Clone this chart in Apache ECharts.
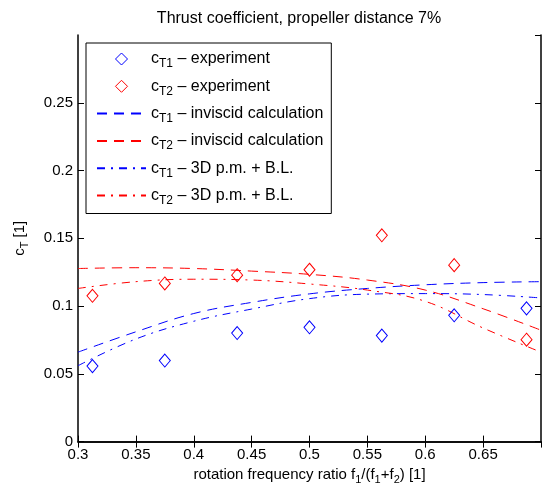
<!DOCTYPE html>
<html>
<head>
<meta charset="utf-8">
<script src="https://cdn.jsdelivr.net/npm/echarts@6/dist/echarts.min.js"></script>
<style>
html, body { margin: 0; padding: 0; background: #fff; }
#chart { width: 542px; height: 490px; }
</style>
</head>
<body>
<div id="chart"></div>
<script>
// measured points (rotation frequency ratio)
var xExp = [0.3125, 0.375, 0.4375, 0.5, 0.5625, 0.625, 0.6875];
var cT1Exp = [0.0557, 0.0598, 0.0801, 0.0843, 0.0782, 0.0932, 0.0983];
var cT2Exp = [0.1076, 0.1167, 0.1228, 0.1268, 0.1522, 0.1302, 0.0752];

// calculated curves
var xCalc = [0.3, 0.35, 0.4, 0.45, 0.5, 0.55, 0.6, 0.65, 0.7];
var cT1Inv = [0.066, 0.081, 0.0945, 0.1027, 0.109, 0.113, 0.1157, 0.1173, 0.118];
var cT2Inv = [0.1277, 0.1283, 0.1277, 0.1258, 0.1234, 0.1192, 0.1118, 0.098, 0.0822];
var cT1Pm = [0.056, 0.0757, 0.0888, 0.0978, 0.1055, 0.1088, 0.1092, 0.1085, 0.106];
var cT2Pm = [0.113, 0.118, 0.1198, 0.1192, 0.1163, 0.1118, 0.1035, 0.0838, 0.066];

var seriesNames = [
    'cT1 – experiment',
    'cT2 – experiment',
    'cT1 – inviscid calculation',
    'cT2 – inviscid calculation',
    'cT1 – 3D p.m. + B.L.',
    'cT2 – 3D p.m. + B.L.'
];

var FONT = '"Liberation Sans", Arial, Helvetica, sans-serif';
var BLUE = '#0000ff';
var RED = '#ff0000';
var DASH = [10, 7];
var DASHDOT = [8, 6, 2, 6];

function pairs(xs, ys) {
    return xs.map(function (x, i) { return [x, ys[i]]; });
}

function expSeries(name, ys, color) {
    return {
        name: name,
        type: 'line',
        data: pairs(xExp, ys),
        symbol: 'diamond',
        symbolSize: [11, 13],
        showAllSymbol: true,
        lineStyle: { color: color, opacity: 0 },
        itemStyle: { color: 'rgba(0,0,0,0)', borderColor: color, borderWidth: 1 },
        z: 3,
        animation: false
    };
}

function calcSeries(name, ys, color, dash) {
    return {
        name: name,
        type: 'line',
        data: pairs(xCalc, ys),
        symbol: 'none',
        smooth: 0.4,
        lineStyle: { color: color, width: 1, type: dash },
        itemStyle: { color: color },
        animation: false
    };
}

// legend entries: hide the marker for the calculated curves
var legendColors = [BLUE, RED];
var legendData = seriesNames.map(function (n, i) {
    if (i < 2) {
        return { name: n, itemStyle: { color: 'rgba(0,0,0,0)', borderColor: legendColors[i], borderWidth: 1 } };
    }
    return { name: n, itemStyle: { opacity: 0 } };
});

var chart = echarts.init(document.getElementById('chart'));

var axisCommon = {
    axisLine: { lineStyle: { color: '#000', width: 1.5 } },
    axisTick: { inside: true, length: 6, lineStyle: { color: '#000' } },
    splitLine: { show: false }
};

var option = {
    backgroundColor: '#fff',
    title: {
        text: 'Thrust coefficient, propeller distance 7%',
        left: 294,
        textAlign: 'center',
        top: 6,
        textStyle: { fontFamily: FONT, fontSize: 16, fontWeight: 'normal', color: '#000' }
    },
    grid: { left: 78, right: 1, top: 35, bottom: 47 },
    legend: {
        orient: 'vertical',
        left: 86,
        top: 43,
        padding: [8, 8, 7, 10],
        itemWidth: 49,
        itemHeight: 15,
        itemGap: 8.3,
        backgroundColor: '#fff',
        borderColor: '#000',
        borderWidth: 1,
        selectedMode: false,
        data: legendData,
        formatter: function (name) {
            return '{c|c}{s|' + name.substr(1, 2) + '}{c|' + name.substr(3) + '}';
        },
        textStyle: {
            color: '#000',
            fontFamily: FONT,
            rich: {
                c: { fontFamily: FONT, fontSize: 16, lineHeight: 22, color: '#000' },
                s: { fontFamily: FONT, fontSize: 12, lineHeight: 12, verticalAlign: 'bottom', color: '#000' }
            }
        }
    },
    xAxis: [
        Object.assign({
            type: 'value', min: 0.3, max: 0.7, interval: 0.05, position: 'bottom',
            name: '{n|rotation frequency ratio f}{s|1}{n|/(f}{s|1}{n|+f}{s|2}{n|) [1]}',
            nameLocation: 'middle',
            nameGap: 17,
            nameTextStyle: {
                rich: {
                    n: { fontFamily: FONT, fontSize: 15, lineHeight: 20, color: '#000' },
                    s: { fontFamily: FONT, fontSize: 11, lineHeight: 11, verticalAlign: 'bottom', color: '#000' }
                }
            },
            axisLabel: { color: '#000', fontFamily: FONT, fontSize: 15, margin: 6, showMaxLabel: false }
        }, axisCommon),
        Object.assign({
            type: 'value', min: 0.3, max: 0.7, interval: 0.05, position: 'top',
            axisLabel: { show: false }
        }, axisCommon)
    ],
    yAxis: [
        Object.assign({
            type: 'value', min: 0, max: 0.3, interval: 0.05, position: 'left',
            name: '{n|c}{s|T}{n| [1]}',
            nameLocation: 'middle',
            nameRotate: 90,
            nameGap: 48,
            nameTextStyle: {
                rich: {
                    n: { fontFamily: FONT, fontSize: 15, lineHeight: 20, color: '#000' },
                    s: { fontFamily: FONT, fontSize: 11, lineHeight: 11, verticalAlign: 'bottom', color: '#000' }
                }
            },
            axisLabel: { color: '#000', fontFamily: FONT, fontSize: 15, margin: 5, showMaxLabel: false }
        }, axisCommon),
        Object.assign({
            type: 'value', min: 0, max: 0.3, interval: 0.05, position: 'right',
            axisLabel: { show: false }
        }, axisCommon)
    ],
    series: [
        expSeries(seriesNames[0], cT1Exp, BLUE),
        expSeries(seriesNames[1], cT2Exp, RED),
        calcSeries(seriesNames[2], cT1Inv, BLUE, DASH),
        calcSeries(seriesNames[3], cT2Inv, RED, DASH),
        calcSeries(seriesNames[4], cT1Pm, BLUE, DASHDOT),
        calcSeries(seriesNames[5], cT2Pm, RED, DASHDOT)
    ]
};

chart.setOption(option);
</script>
</body>
</html>
